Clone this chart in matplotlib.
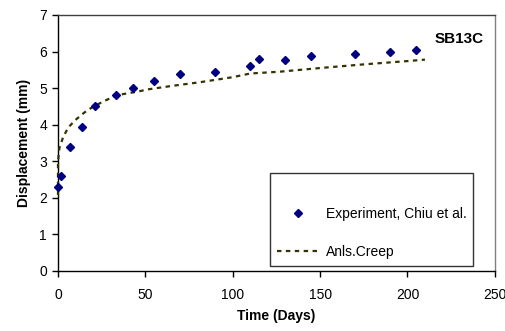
import numpy as np
import matplotlib.pyplot as plt

plt.rcParams['font.family'] = ['Liberation Sans', 'DejaVu Sans']

# experiment points (days, mm)
exp_time = [0, 2, 7, 14, 21, 33, 43, 55, 70, 90, 110, 115, 130, 145, 170, 190, 205]
exp_disp = [2.3, 2.6, 3.4, 3.95, 4.5, 4.8, 5.0, 5.2, 5.4, 5.45, 5.6, 5.8, 5.78, 5.87, 5.93, 5.99, 6.05]

# analysis creep curve
creep_time = [0, 0, 0.8, 3, 6, 10, 15, 20, 27, 34, 45, 52, 65, 81, 100, 110, 127, 150, 175, 200, 210]
creep_disp = [2.08, 3.0, 3.36, 3.67, 3.93, 4.13, 4.33, 4.49, 4.66, 4.81, 4.9, 4.97, 5.06, 5.16,
              5.3, 5.4, 5.45, 5.55, 5.65, 5.74, 5.78]

fig = plt.figure(figsize=(5.06, 3.31), dpi=100)
ax = fig.add_axes([0.1146, 0.1813, 0.8634, 0.7734])

ax.plot(exp_time, exp_disp, linestyle='none', marker='D', markersize=4.5,
        color='#000080', label='Experiment, Chiu et al.', zorder=4, clip_on=False)
ax.plot(creep_time, creep_disp, linestyle=(0, (2, 2)), linewidth=1.6,
        color='#333300', label='Anls.Creep', zorder=3, clip_on=False)

ax.set_xlim(0, 250)
ax.set_ylim(0, 7)
ax.set_xticks([0, 50, 100, 150, 200, 250])
ax.set_yticks(range(0, 8))
ax.tick_params(direction='out', length=4, width=1, labelsize=10, pad=8)
ax.tick_params(axis='y', pad=4)
for s in ax.spines.values():
    s.set_linewidth(1)
ax.spines['right'].set_color('#808080')
ax.spines['top'].set_color('#404040')

ax.set_xlabel('Time (Days)', fontsize=10, fontweight='bold', labelpad=5)
ax.set_ylabel('Displacement (mm)', fontsize=10, fontweight='bold', labelpad=6)

ax.text(0.974, 0.905, 'SB13C', transform=ax.transAxes, ha='right', va='center',
        fontsize=11, fontweight='bold')

leg = ax.legend(loc='lower right', bbox_to_anchor=(0.951, 0.02), fontsize=10,
                frameon=True, fancybox=False, edgecolor='black', labelspacing=1.7,
                borderpad=0.5, handlelength=3.0, handletextpad=0.5, numpoints=1,
                borderaxespad=0, title=' ', title_fontsize=2)
leg.get_frame().set_linewidth(1)

fig.savefig('out.png', dpi=100)
